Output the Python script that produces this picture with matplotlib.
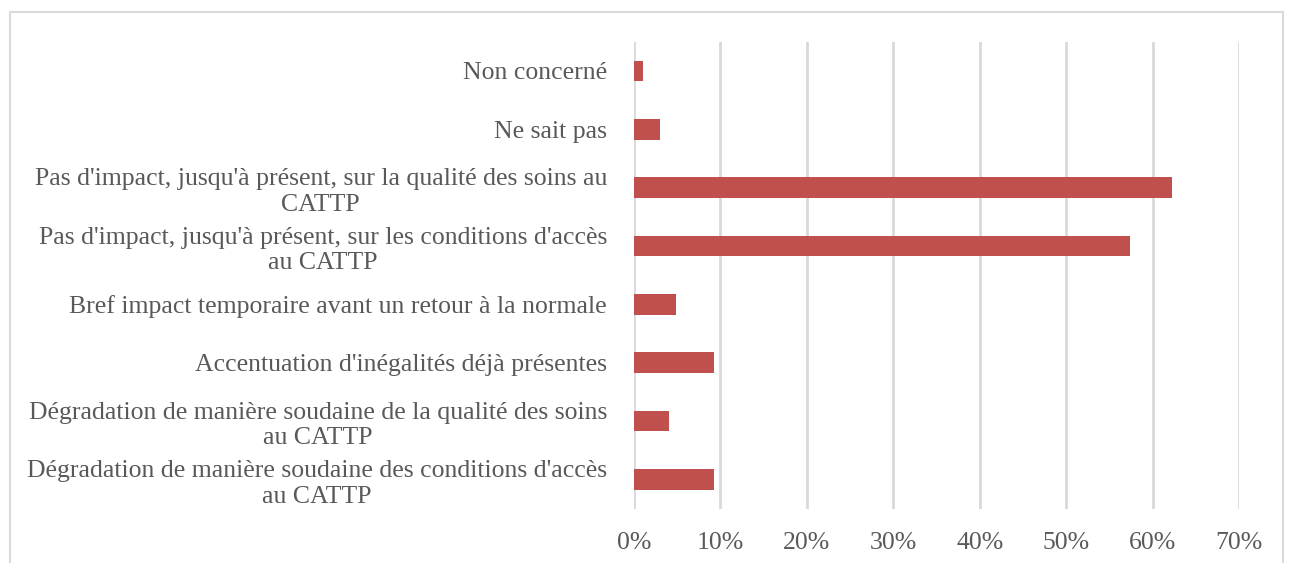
import matplotlib
matplotlib.use("Agg")
import matplotlib.pyplot as plt
from matplotlib.ticker import PercentFormatter, MultipleLocator
from matplotlib.patches import Rectangle

categories = [
    "Dégradation de manière soudaine des conditions d'accès\nau CATTP",
    "Dégradation de manière soudaine de la qualité des soins\nau CATTP",
    "Accentuation d'inégalités déjà présentes",
    "Bref impact temporaire avant un retour à la normale",
    "Pas d'impact, jusqu'à présent, sur les conditions d'accès\nau CATTP",
    "Pas d'impact, jusqu'à présent, sur la qualité des soins au\nCATTP",
    "Ne sait pas",
    "Non concerné",
]
values = [9.3, 4.0, 9.3, 4.8, 57.4, 62.2, 3.0, 1.0]

BAR = "#C0504D"
GRID = "#D9D9D9"
TXT = "#595959"

plt.rcParams['font.family'] = ['Liberation Serif', 'DejaVu Serif']

fig = plt.figure(figsize=(12.95, 5.63), dpi=100)
ax = fig.add_axes([634/1295, 1-508.7/563, (1239.3-634)/1295, (508.7-41.7)/563])

ax.barh(range(len(categories)), values, height=0.355, color=BAR, zorder=3)
ax.set_ylim(-0.5, len(categories)-0.5)
ax.set_xlim(0, 70)
ax.xaxis.set_major_locator(MultipleLocator(10))
ax.xaxis.set_major_formatter(PercentFormatter(decimals=0))
ax.grid(axis='x', color=GRID, linewidth=2, zorder=0)
for s in ax.spines.values():
    s.set_visible(False)
ax.tick_params(length=0, colors=TXT, labelsize=18.5)
ax.tick_params(axis='x', pad=17)
ax.tick_params(axis='y', pad=19.5)
ax.set_yticks(range(len(categories)))
ax.set_yticklabels(categories, multialignment='center', linespacing=1.22)

fig.patches.append(Rectangle((10/1295, -0.1), (1283-10)/1295, 1+0.1-12/563,
                             transform=fig.transFigure, fill=False,
                             edgecolor="#D9D9D9", linewidth=1.5))

fig.savefig("out.png", dpi=100, facecolor="white")
